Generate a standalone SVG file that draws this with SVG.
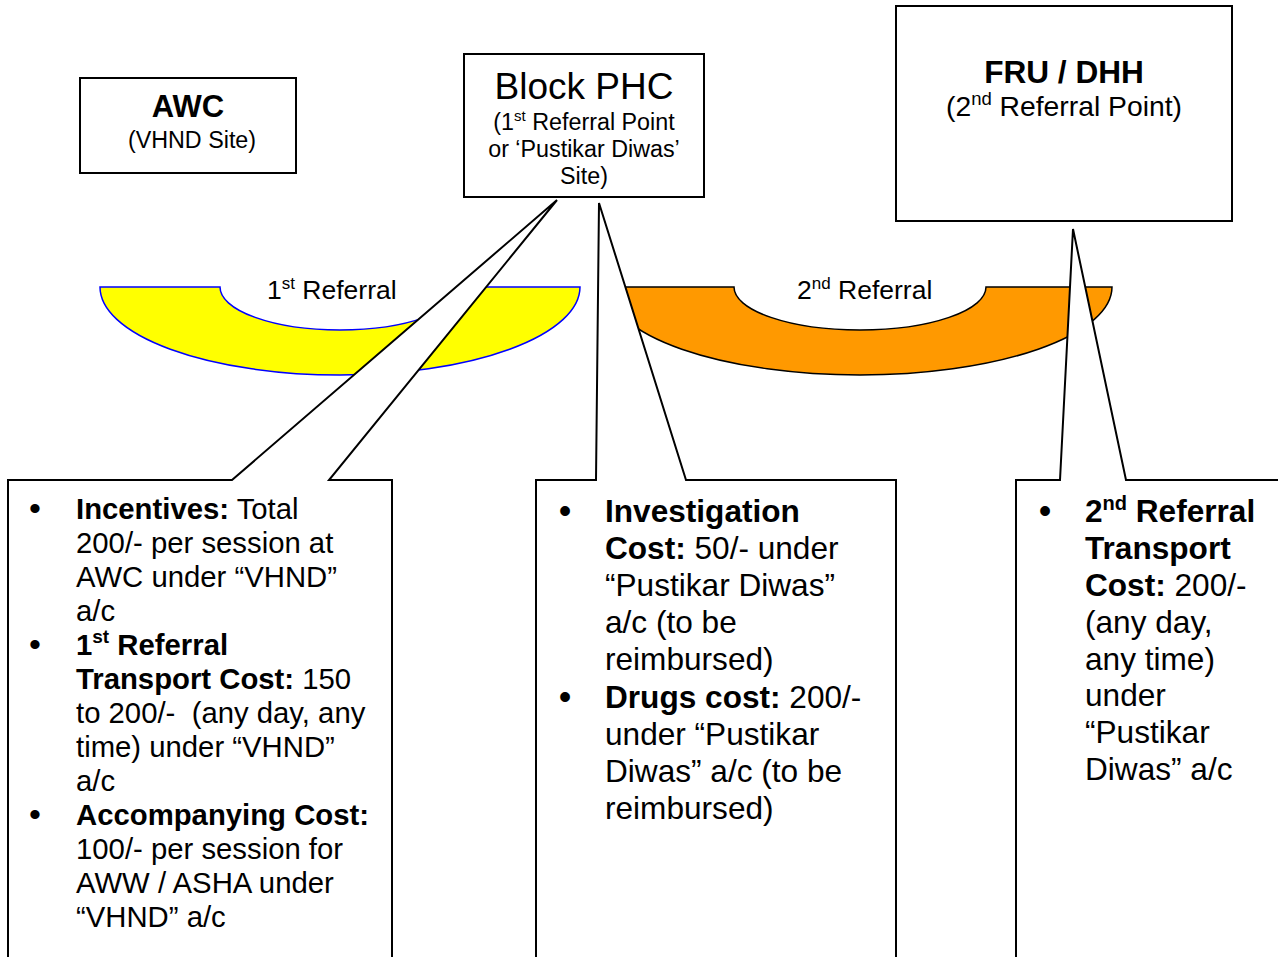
<svg xmlns="http://www.w3.org/2000/svg" width="1278" height="957" viewBox="0 0 1278 957">
<style>
text{font-family:"Liberation Sans",Arial,sans-serif;fill:#000}
.box{fill:#fff;stroke:#000;stroke-width:2}
.call{fill:#fff;stroke:#000;stroke-width:2;stroke-linejoin:miter}
.b{font-weight:bold}
.c{text-anchor:middle}
.t1{font-size:29.3px}
.t2{font-size:31.6px}
</style>
<rect width="1278" height="957" fill="#fff"/>
<g id="awc">
<rect class="box" x="80" y="78" width="216" height="95"/>
<text class="c b" x="188" y="117" font-size="31">AWC</text>
<text class="c" x="192" y="148" font-size="23.3">(VHND Site)</text>
</g>
<g id="phc">
<rect class="box" x="464" y="54" width="240" height="143"/>
<text class="c" x="584" y="99" font-size="37">Block PHC</text>
<text class="c" x="584" y="130" font-size="23.3">(1<tspan font-size="15" dy="-9">st</tspan><tspan dy="9"> Referral Point</tspan></text>
<text class="c" x="584" y="157" font-size="23.3">or ‘Pustikar Diwas’</text>
<text class="c" x="584" y="184" font-size="23.3">Site)</text>
</g>
<g id="fru">
<rect class="box" x="896" y="6" width="336" height="215"/>
<text class="c b" x="1064" y="83" font-size="31.6">FRU / DHH</text>
<text class="c" x="1064" y="116" font-size="28.3">(2<tspan font-size="18.5" dy="-11">nd</tspan><tspan dy="11"> Referral Point)</tspan></text>
</g>
<g id="referral1">
<path d="M100,287 L220,287 A120,43 0 0 0 460,287 L580,287 A240,88 0 0 1 100,287 Z" fill="#ffff00" stroke="#0000ff" stroke-width="1.5"/>
<text x="267" y="299" font-size="26.5">1<tspan font-size="17" dy="-10">st</tspan><tspan dy="10"> Referral</tspan></text>
</g>
<g id="referral2">
<path d="M608,287 L734,287 A126,43 0 0 0 986,287 L1112,287 A252,88 0 0 1 608,287 Z" fill="#ff9900" stroke="#000" stroke-width="1.5"/>
<text x="797" y="299" font-size="26.5">2<tspan font-size="17" dy="-10">nd</tspan><tspan dy="10"> Referral</tspan></text>
</g>
<g id="connectors">
<path class="call" d="M8,480 L232,480 L557,200 L329,480 L392,480 L392,965 L8,965 Z"/>
<path class="call" d="M536,480 L596,480 L599,203 L686,480 L896,480 L896,965 L536,965 Z"/>
<path class="call" d="M1016,480 L1060,480 L1073,229 L1126,480 L1290,480 L1290,965 L1016,965 Z"/>
</g>
<g id="callout-left" class="t1">
<text x="35" y="520" class="c" font-size="34">•</text>
<text x="76" y="519"><tspan class="b">Incentives:</tspan> Total</text>
<text x="76" y="553">200/- per session at</text>
<text x="76" y="587">AWC under “VHND”</text>
<text x="76" y="621">a/c</text>
<text x="35" y="656" class="c" font-size="34">•</text>
<text x="76" y="655" class="b">1<tspan font-size="19" dy="-12">st</tspan><tspan dy="12"> Referral</tspan></text>
<text x="76" y="689"><tspan class="b">Transport Cost:</tspan> 150</text>
<text x="76" y="723">to 200/-&#160; (any day, any</text>
<text x="76" y="757">time) under “VHND”</text>
<text x="76" y="791">a/c</text>
<text x="35" y="826" class="c" font-size="34">•</text>
<text x="76" y="825" class="b">Accompanying Cost:</text>
<text x="76" y="859">100/- per session for</text>
<text x="76" y="893">AWW / ASHA under</text>
<text x="76" y="927">“VHND” a/c</text>
</g>
<g id="callout-middle" class="t2">
<text x="565" y="523" class="c" font-size="36">•</text>
<text x="605" y="522" class="b">Investigation</text>
<text x="605" y="559"><tspan class="b">Cost:</tspan> 50/- under</text>
<text x="605" y="596">“Pustikar Diwas”</text>
<text x="605" y="633">a/c (to be</text>
<text x="605" y="670">reimbursed)</text>
<text x="565" y="709" class="c" font-size="36">•</text>
<text x="605" y="708"><tspan class="b">Drugs cost:</tspan> 200/-</text>
<text x="605" y="745">under “Pustikar</text>
<text x="605" y="782">Diwas” a/c (to be</text>
<text x="605" y="819">reimbursed)</text>
</g>
<g id="callout-right" class="t2">
<text x="1045" y="523" class="c" font-size="36">•</text>
<text x="1085" y="522" class="b">2<tspan font-size="20" dy="-12">nd</tspan><tspan dy="12"> Referral</tspan></text>
<text x="1085" y="559" class="b">Transport</text>
<text x="1085" y="596"><tspan class="b">Cost:</tspan> 200/-</text>
<text x="1085" y="633">(any day,</text>
<text x="1085" y="670">any time)</text>
<text x="1085" y="706">under</text>
<text x="1085" y="743">“Pustikar</text>
<text x="1085" y="780">Diwas” a/c</text>
</g>
</svg>
